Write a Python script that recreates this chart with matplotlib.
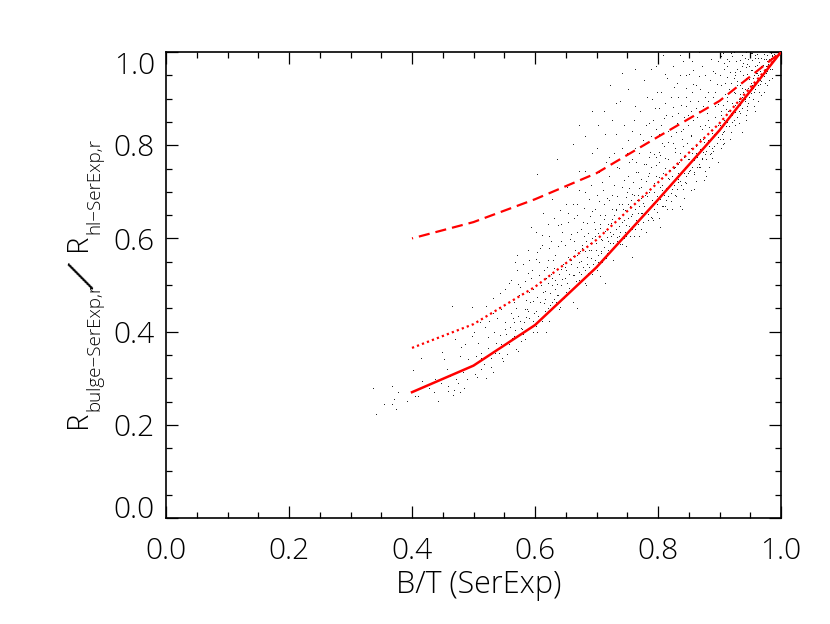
import matplotlib
matplotlib.use('Agg')
import matplotlib.pyplot as plt

# fraction grid of the three model curves
model_bt = [0.4, 0.5, 0.6, 0.7, 0.8, 0.9, 1.0]
solid_ratio = [0.27, 0.327, 0.414, 0.538, 0.683, 0.832, 1.0]
dotted_ratio = [0.365, 0.416, 0.496, 0.597, 0.72, 0.847, 1.0]
dashed_ratio = [0.6, 0.635, 0.684, 0.74, 0.818, 0.895, 1.0]

x_ticks = [0.0, 0.2, 0.4, 0.6, 0.8, 1.0]
y_ticks = [0.0, 0.2, 0.4, 0.6, 0.8, 1.0]

# galaxies (a subset of the visible dots)
low_end = [
    (.337,.277),(.341,.221),(.355,.243),(.367,.281),(.368,.242),(.370,.253),(.374,.232),(.378,.268),
    (.392,.249),(.402,.315),(.415,.341),(.405,.260),(.409,.260),(.416,.292),(.427,.277),(.436,.268),
    (.443,.249),(.448,.354),(.452,.339),(.465,.453),(.498,.451),(.459,.281),(.459,.271),(.469,.273),
    (.478,.268),(.484,.277),(.478,.346),(.479,.365),(.470,.383),(.486,.372),(.491,.338),(.462,.302),
    (.471,.297),(.483,.311),(.474,.288),(.489,.296),(.457,.318),(.437,.296),(.447,.288),(.466,.262),
]
mid_low = [
    (.503,.307),(.512,.352),(.497,.389),(.521,.298),(.508,.373),(.529,.341),(.517,.329),(.534,.398),
    (.526,.421),(.541,.352),(.504,.346),(.548,.335),(.519,.408),(.537,.373),(.552,.418),(.531,.312),
    (.545,.447),(.558,.372),(.513,.318),(.543,.391),(.555,.349),(.524,.386),(.561,.437),(.539,.428),
    (.567,.402),(.549,.372),(.572,.356),(.558,.462),(.551,.403),(.576,.421),(.563,.384),(.532,.471),
    (.581,.392),(.569,.448),(.574,.476),(.586,.429),(.578,.378),(.592,.461),(.566,.418),(.583,.507),
    (.597,.398),(.589,.441),(.571,.529),(.604,.472),(.594,.512),(.585,.465),(.611,.421),(.599,.438),
    (.576,.493),(.606,.547),(.616,.486),(.591,.482),(.602,.409),(.621,.448),(.609,.498),(.595,.531),
    (.626,.522),(.614,.459),(.603,.568),(.631,.468),(.619,.537),(.588,.572),(.636,.499),(.624,.481),
    (.612,.606),(.641,.451),(.629,.552),(.618,.512),(.646,.542),(.633,.508),(.622,.578),(.651,.483),
    (.638,.476),(.627,.497),(.656,.521),(.643,.592),(.631,.534),(.607,.519),(.637,.627),(.583,.446),
    (.648,.512),(.634,.461),(.653,.558),(.642,.533),(.661,.492),(.647,.471),(.628,.462),(.616,.443),
    (.596,.421),(.579,.404),(.566,.389),(.661,.561),(.668,.536),(.657,.597),(.672,.508),(.651,.529),
    (.677,.584),(.664,.519),(.682,.531),(.669,.612),(.658,.543),(.687,.572),(.674,.549),(.692,.521),
    (.663,.641),(.679,.604),(.697,.618),(.684,.558),(.671,.526),(.702,.562),(.689,.646),(.676,.578),
    (.707,.597),(.694,.543),(.681,.502),(.712,.639),(.699,.588),(.686,.609),(.717,.567),(.704,.678),
    (.691,.574),(.722,.612),(.709,.548),(.696,.632),(.727,.589),(.714,.614),(.701,.531),(.732,.661),
    (.719,.592),(.706,.621),(.737,.603),(.724,.574),(.711,.702),(.742,.634),(.729,.648),(.716,.556),
    (.747,.612),(.734,.592),(.721,.681),(.665,.574),(.693,.598),(.678,.632),(.703,.609),(.688,.536),
    (.718,.628),(.708,.567),(.683,.592),(.673,.571),(.698,.552),(.726,.639),(.713,.579),(.738,.586),
    (.731,.617),(.744,.598),(.736,.671),(.723,.604),(.751,.732),(.628,.683),(.652,.708),(.672,.742),
    (.613,.652),(.594,.622),(.604,.735),(.636,.768),(.661,.801),(.558,.502),(.543,.481),(.567,.548),
]
mid_high = [
    (.752,.641),(.758,.618),(.748,.687),(.763,.662),(.755,.603),(.768,.629),(.759,.718),(.746,.658),
    (.773,.684),(.764,.638),(.753,.762),(.778,.647),(.769,.706),(.761,.604),(.783,.731),(.774,.652),
    (.756,.681),(.788,.668),(.779,.692),(.767,.741),(.793,.716),(.784,.637),(.772,.618),(.798,.688),
    (.789,.752),(.776,.673),(.762,.792),(.803,.709),(.794,.661),(.781,.721),(.808,.738),(.799,.654),
    (.786,.698),(.813,.681),(.804,.776),(.791,.642),(.775,.808),(.818,.726),(.809,.692),(.796,.731),
    (.823,.704),(.814,.661),(.801,.784),(.785,.846),(.828,.752),(.819,.712),(.806,.668),(.833,.718),
    (.824,.802),(.811,.749),(.795,.878),(.838,.741),(.829,.689),(.816,.727),(.843,.773),(.834,.762),
    (.821,.678),(.805,.912),(.848,.738),(.839,.811),(.826,.748),(.853,.792),(.844,.719),(.831,.846),
    (.815,.942),(.858,.766),(.849,.842),(.836,.782),(.863,.751),(.854,.819),(.841,.704),(.825,.968),
    (.868,.811),(.859,.736),(.846,.882),(.873,.783),(.864,.859),(.851,.768),(.835,.992),(.878,.768),
    (.869,.752),(.856,.912),(.883,.836),(.874,.804),(.861,.782),(.845,.948),(.888,.792),(.879,.868),
    (.866,.946),(.893,.858),(.884,.778),(.871,.832),(.855,.978),(.898,.816),(.889,.901),(.876,.742),
    (.771,.872),(.782,.902),(.792,.851),(.802,.822),(.812,.889),(.822,.861),(.832,.902),(.842,.858),
    (.852,.892),(.862,.928),(.872,.968),(.882,.912),(.892,.952),(.765,.762),(.777,.758),(.787,.783),
    (.797,.772),(.807,.802),(.817,.768),(.827,.791),(.837,.828),(.847,.803),(.857,.851),(.867,.872),
    (.877,.842),(.887,.825),(.897,.886),(.757,.829),(.749,.781),(.741,.708),(.733,.752),(.725,.691),
    (.739,.642),(.754,.667),(.769,.668),(.782,.689),(.794,.698),(.807,.713),(.819,.744),(.832,.739),
    (.844,.751),(.856,.782),(.868,.789),(.881,.808),(.891,.821),(.728,.782),(.716,.762),(.704,.741),
    (.744,.842),(.762,.882),(.778,.938),(.796,.968),(.808,.992),(.738,.892),(.726,.852),(.714,.822),
    (.692,.782),(.681,.698),(.668,.672),(.653,.652),(.642,.628),(.622,.602),(.809,.856),(.799,.912),
    (.789,.962),(.826,.922),(.816,.829),(.836,.949),(.846,.921),(.857,.959),(.866,.998),(.876,.902),
    (.886,.982),(.896,.929),(.768,.692),(.757,.651),(.748,.626),(.772,.653),(.792,.674),(.812,.702),
    (.833,.726),(.852,.744),(.871,.771),(.889,.786),(.902,.792),(.883,.751),(.861,.722),(.842,.684),
    (.822,.662),(.801,.641),(.781,.612),(.854,.702),(.836,.668),(.874,.724),
]
top_end = [
    (.901,.842),(.906,.812),(.911,.876),(.903,.928),(.916,.838),(.908,.961),(.921,.862),(.913,.902),
    (.926,.884),(.918,.996),(.931,.872),(.923,.941),(.936,.902),(.928,.858),(.941,.918),(.933,.981),
    (.946,.889),(.938,.948),(.951,.932),(.943,.998),(.956,.912),(.948,.968),(.961,.952),(.953,.981),
    (.966,.938),(.958,.992),(.971,.971),(.963,.962),(.976,.953),(.968,.986),(.981,.982),(.973,.994),
    (.986,.978),(.978,.991),(.991,.991),(.983,.996),(.996,.997),(.988,.993),(.905,.884),(.915,.919),
    (.925,.909),(.935,.934),(.945,.951),(.955,.941),(.965,.976),(.975,.968),(.985,.989),(.902,.862),
    (.912,.848),(.922,.881),(.932,.897),(.942,.892),(.952,.909),(.962,.928),(.972,.947),(.982,.961),
    (.907,.974),(.917,.956),(.927,.979),(.937,.992),(.947,.982),(.957,.968),(.967,.999),(.977,.979),
    (.904,.821),(.914,.872),(.924,.851),(.934,.868),(.944,.873),(.954,.896),(.964,.912),(.974,.932),
    (.909,.908),(.919,.931),(.929,.936),(.939,.911),(.949,.924),(.959,.953),(.969,.948),(.979,.972),
    (.903,.989),(.913,.982),(.923,.998),(.933,.958),(.943,.965),(.953,.959),(.963,.985),(.973,.982),
    (.906,.801),(.918,.826),(.931,.845),(.943,.862),(.956,.881),(.968,.905),(.981,.938),(.912,.944),
    (.926,.956),(.938,.974),(.951,.995),(.921,.889),(.941,.938),(.961,.971),(.916,.978),(.936,.921),
    (.946,.908),(.966,.958),(.986,.962),(.928,.928),(.948,.939),(.958,.926),(.978,.958),(.908,.829),
    (.968,.936),(.934,.884),(.944,.881),(.954,.921),(.964,.943),(.974,.961),(.984,.974),(.994,.989),
]
# the thick part of the cloud, just above the solid curve
band_lower = [
    (.512,.341),(.523,.362),(.535,.351),(.544,.372),(.553,.392),(.559,.407),(.564,.426),(.573,.431),
    (.577,.406),(.582,.418),(.587,.447),(.591,.427),(.596,.463),(.601,.441),(.605,.432),(.608,.462),
    (.613,.482),(.617,.468),(.621,.503),(.625,.456),(.628,.513),(.632,.489),(.635,.477),(.639,.522),
    (.642,.498),(.644,.511),(.648,.537),(.652,.502),(.655,.491),(.659,.552),(.662,.519),(.666,.507),
    (.668,.563),(.671,.548),(.675,.521),(.678,.536),(.681,.571),(.684,.542),(.686,.523),(.689,.588),
    (.691,.556),(.694,.531),(.697,.603),(.699,.574),(.702,.548),(.705,.628),(.707,.571),(.709,.594),
    (.712,.558),(.714,.647),(.717,.601),(.719,.572),(.722,.589),(.724,.631),(.727,.608),(.729,.577),
    (.731,.658),(.733,.601),(.736,.624),(.738,.611),(.741,.586),(.743,.662),(.745,.638),(.748,.603),
    (.751,.672),(.753,.624),(.756,.646),(.758,.694),(.761,.629),(.763,.618),(.766,.681),(.768,.652),
    (.771,.641),(.773,.708),(.776,.632),(.778,.668),(.781,.695),(.783,.651),(.786,.738),(.788,.643),
    (.791,.681),(.793,.662),(.796,.756),(.798,.671),(.801,.729),(.803,.683),(.806,.702),(.808,.668),
    (.811,.771),(.813,.706),(.816,.689),(.818,.744),(.821,.696),(.823,.731),(.826,.712),(.828,.784),
    (.831,.703),(.833,.757),(.836,.722),(.838,.712),(.841,.796),(.843,.738),(.846,.731),(.848,.768),
    (.851,.742),(.853,.818),(.856,.752),(.858,.741),(.861,.797),(.863,.772),(.866,.758),(.868,.839),
    (.871,.768),(.873,.812),(.876,.779),(.878,.786),(.881,.851),(.883,.797),(.886,.782),(.888,.831),
    (.891,.796),(.893,.882),(.896,.803),(.898,.841),(.901,.812),(.903,.872),(.906,.826),(.908,.851),
    (.911,.839),(.913,.892),(.916,.858),(.918,.868),(.921,.847),(.923,.912),(.926,.869),(.928,.881),
    (.931,.892),(.933,.928),(.936,.878),(.938,.912),(.941,.896),(.943,.942),(.946,.921),(.948,.901),
    (.951,.959),(.953,.928),(.956,.948),(.958,.919),(.961,.938),(.963,.949),(.966,.929),(.968,.968),
    (.971,.948),(.973,.958),(.976,.982),(.978,.967),(.981,.971),(.983,.984),(.986,.991),(.989,.983),
]
band_upper = [
    (.566,.462),(.573,.501),(.581,.478),(.588,.523),(.596,.489),(.601,.553),(.608,.578),(.615,.531),
    (.621,.551),(.626,.592),(.632,.562),(.637,.581),(.644,.612),(.649,.583),(.654,.634),(.659,.608),
    (.664,.592),(.669,.648),(.674,.618),(.679,.664),(.684,.631),(.688,.682),(.692,.656),(.697,.661),
    (.701,.692),(.705,.648),(.709,.718),(.713,.672),(.717,.684),(.721,.731),(.725,.662),(.729,.712),
    (.733,.689),(.737,.748),(.741,.672),(.745,.723),(.749,.698),(.753,.706),(.757,.768),(.761,.692),
    (.765,.741),(.769,.782),(.773,.726),(.777,.798),(.781,.758),(.785,.772),(.789,.818),(.793,.778),
    (.797,.832),(.801,.762),(.805,.841),(.809,.796),(.813,.862),(.817,.804),(.821,.818),(.825,.879),
    (.829,.826),(.833,.868),(.837,.884),(.841,.832),(.845,.901),(.849,.862),(.853,.872),(.857,.929),
    (.861,.878),(.865,.892),(.869,.918),(.873,.882),(.877,.948),(.881,.892),(.885,.938),(.889,.958),
    (.893,.912),(.897,.978),(.901,.948),(.905,.996),(.909,.932),(.913,.968),(.917,.912),(.921,.989),
    (.925,.948),(.929,.962),(.933,.908),(.937,.968),(.941,.985),(.945,.972),(.949,.998),(.953,.996),
    (.957,.984),(.961,.994),(.851,.951),(.841,.978),(.831,.932),(.821,.902),(.811,.951),(.801,.878),
    (.791,.898),(.781,.842),(.771,.822),(.761,.852),(.751,.808),(.741,.792),(.731,.821),(.721,.772),
    (.711,.748),(.701,.792),(.691,.712),(.681,.742),(.671,.702),(.661,.672),(.651,.672),(.641,.658),
    (.631,.641),(.621,.628),(.611,.583),(.601,.612),(.591,.551),(.581,.542),(.571,.562),(.561,.508),
    (.551,.489),(.541,.451),(.531,.437),(.521,.452),(.511,.419),(.501,.398),(.762,.962),(.752,.918),
    (.742,.952),(.732,.888),(.722,.928),(.712,.872),(.702,.842),(.692,.872),(.682,.818),(.672,.842),
]
below_solid = [
    (.505,.301),(.528,.322),(.546,.342),(.569,.361),(.584,.381),(.603,.398),(.622,.421),(.639,.446),
    (.662,.462),(.683,.498),(.706,.518),(.727,.552),(.748,.581),(.769,.604),(.792,.638),(.811,.668),
    (.828,.692),(.846,.716),(.866,.752),(.887,.771),(.908,.802),(.926,.842),(.943,.852),(.962,.892),
    (.972,.912),(.986,.942),(.618,.398),(.668,.448),(.714,.502),(.758,.558),(.803,.622),(.839,.662),
    (.859,.704),(.878,.731),(.897,.762),(.917,.812),(.936,.826),(.957,.872),(.978,.926),
]

dot_x, dot_y = zip(*(low_end + mid_low + mid_high + top_end + band_lower + band_upper + below_solid))

def main():
    plt.rcParams['font.family'] = ['Open Sans', 'DejaVu Sans']
    plt.rcParams['font.weight'] = 'light'

    fig = plt.figure(figsize=(8.3, 6.24), dpi=100)
    ax = fig.add_axes([166 / 830, 1 - 518 / 624, 615 / 830, 466 / 624])

    ax.plot(dot_x, dot_y, ',', color='#222222', zorder=1)

    ax.plot(model_bt, solid_ratio, color='red', lw=1.8, zorder=3)
    ax.plot(model_bt, dotted_ratio, color='red', lw=1.6, linestyle=(0, (1.0, 1.4)), zorder=3)
    ax.plot(model_bt, dashed_ratio, color='red', lw=1.6, linestyle=(4.5, (5, 2.7)), zorder=3)

    ax.set_xlim(0, 1)
    ax.set_ylim(0, 1)
    ax.set_xticks(x_ticks)
    ax.set_yticks(y_ticks)
    ax.set_xticklabels(['%.1f' % t for t in x_ticks])
    ax.set_yticklabels(['%.1f' % t for t in y_ticks])
    ax.set_xticks([i * 0.05 for i in range(21) if i % 4], minor=True)
    ax.set_yticks([i * 0.05 for i in range(21) if i % 4], minor=True)

    ax.tick_params(which='major', direction='in', length=8.6, width=0.9, top=True, right=True,
                   labelsize=21.5)
    ax.tick_params(axis='x', which='major', pad=13)
    ax.tick_params(axis='y', which='major', pad=8)
    ax.tick_params(which='minor', direction='in', length=4.3, width=0.9, top=True, right=True)
    for spine in ax.spines.values():
        spine.set_linewidth(1.2)

    # end labels on the y axis stay inside the axis range
    y_labels = ax.get_yticklabels()
    y_labels[0].set_va('baseline')
    y_labels[-1].set_va('top')

    fig.text(479 / 830, 1 - 585 / 624, 'B/T (SerExp)', fontsize=22, ha='center', va='center')

    # y label is built from pieces so the subscripts and slash get their own sizes
    fig.text(78 / 830, 1 - 419 / 624, 'R', fontsize=21, rotation=90, ha='center', va='center')
    fig.text(94 / 830, 1 - 347 / 624, 'bulge\u2212SerExp,r', fontsize=13.5, rotation=90, ha='center', va='center')
    fig.text(85 / 830, 1 - 278 / 624, '/', fontsize=33, rotation=65, ha='center', va='center')
    fig.text(78 / 830, 1 - 242 / 624, 'R', fontsize=21, rotation=90, ha='center', va='center')
    fig.text(94 / 830, 1 - 186 / 624, 'hl\u2212SerExp,r', fontsize=13.5, rotation=90, ha='center', va='center')

    fig.savefig('out.png', dpi=100)

if __name__ == "__main__":
    main()
